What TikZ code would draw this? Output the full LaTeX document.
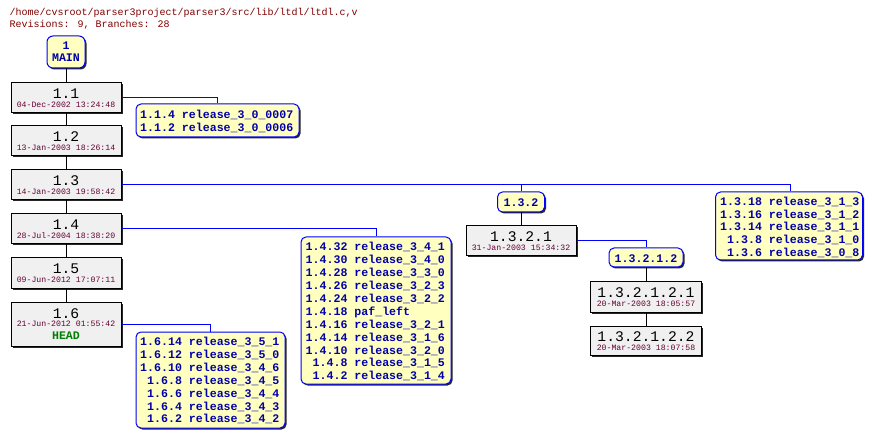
\documentclass[tikz,border=0pt]{standalone}
\usepackage{fontspec}
\newfontfamily\cvsmono{Liberation Mono}
\usetikzlibrary{shadows}
\definecolor{hdrred}{RGB}{128,0,0}
\definecolor{datered}{RGB}{102,0,51}
\definecolor{tagblue}{RGB}{0,0,170}
\definecolor{lineblue}{RGB}{0,0,255}
\definecolor{yelfill}{RGB}{255,255,192}
\definecolor{grayfill}{RGB}{240,240,240}
\definecolor{headgreen}{RGB}{0,128,0}
\begin{document}
\begin{tikzpicture}[x=1pt,y=-1pt,
  shad/.style={drop shadow={shadow xshift=1.5pt,shadow yshift=-1.5pt,opacity=1,fill=black!85}},
  revbox/.style={draw=black,line width=1pt,fill=grayfill,inner sep=0pt,minimum width=110pt,minimum height=30pt,shad},
  tagbox/.style={draw=lineblue,line width=1pt,fill=yelfill,rounded corners=5pt,inner sep=0pt,shad},
  hdr/.style={anchor=base west,inner sep=0pt,text=hdrred,font=\cvsmono\fontsize{10}{12}\selectfont},
  numtxt/.style={anchor=base,inner sep=0pt,font=\cvsmono\fontsize{14.7}{16}\selectfont},
  datetxt/.style={anchor=base,inner sep=0pt,text=datered,font=\cvsmono\fontsize{8.2}{9}\selectfont},
  tagtxt/.style={anchor=base,inner sep=0pt,text=tagblue,font=\cvsmono\bfseries\fontsize{11.6}{12.9}\selectfont},
  lsttxt/.style={tagtxt,anchor=base west},
  trunk/.style={draw=black,line width=1pt},
  branch/.style={draw=lineblue,line width=1pt},
]
\useasboundingbox[fill=white] (0,0) rectangle (875,438);

% header
\node[hdr] (h1) at (9.5,15.5) {/home/cvsroot/parser3project/parser3/src/lib/ltdl/ltdl.c,v};
\node[hdr] (h2) at (9.5,27.5) {Revisions: 9, Branches: 28};

% MAIN
\node[tagbox,minimum width=38pt,minimum height=32pt,rounded corners=6pt] (main) at (66,52) {};
\node[tagtxt] (mainnum) at (66,49.5) {1};
\node[tagtxt] (mainlbl) at (66,62) {MAIN};

% trunk revisions
\node[revbox] (r11) at (66,98) {};
\node[numtxt] (r11n) at (66,99) {1.1};
\node[datetxt] (r11d) at (66,107.5) {04-Dec-2002 13:24:48};

\node[revbox] (r12) at (66,141) {};
\node[numtxt] (r12n) at (66,142) {1.2};
\node[datetxt] (r12d) at (66,150.5) {13-Jan-2003 18:26:14};

\node[revbox] (r13) at (66,185) {};
\node[numtxt] (r13n) at (66,186) {1.3};
\node[datetxt] (r13d) at (66,194.5) {14-Jan-2003 19:58:42};

\node[revbox] (r14) at (66,229) {};
\node[numtxt] (r14n) at (66,230) {1.4};
\node[datetxt] (r14d) at (66,238.5) {28-Jul-2004 18:38:20};

\node[revbox] (r15) at (66,273) {};
\node[numtxt] (r15n) at (66,274) {1.5};
\node[datetxt] (r15d) at (66,282.5) {09-Jun-2012 17:07:11};

\node[revbox,minimum height=44pt] (r16) at (66,324) {};
\node[numtxt] (r16n) at (66,318) {1.6};
\node[datetxt] (r16d) at (66,326.5) {21-Jun-2012 01:55:42};
\node[tagtxt,text=headgreen] (r16h) at (66,339) {HEAD};

% branch 1.3.2
\node[tagbox,minimum width=47pt,minimum height=20pt] (b132) at (521,202) {};
\node[tagtxt] (b132t) at (521,206.5) {1.3.2};
\node[revbox] (r1321) at (521,241) {};
\node[numtxt] (r1321n) at (521,242) {1.3.2.1};
\node[datetxt] (r1321d) at (521,250.5) {31-Jan-2003 15:34:32};

\node[tagbox,minimum width=74pt,minimum height=19pt] (b13212) at (646,257.5) {};
\node[tagtxt] (b13212t) at (646,262) {1.3.2.1.2};
\node[revbox,minimum width=111pt] (r12121) at (646,297) {};
\node[numtxt] (r12121n) at (646,298) {1.3.2.1.2.1};
\node[datetxt] (r12121d) at (646,306.5) {20-Mar-2003 18:05:57};
\node[revbox,minimum width=111pt,minimum height=29pt] (r12122) at (646,340.5) {};
\node[numtxt] (r12122n) at (646,341.5) {1.3.2.1.2.2};
\node[datetxt] (r12122d) at (646,350) {20-Mar-2003 18:07:58};

% tag lists
\node[tagbox,minimum width=163pt,minimum height=33pt] (l114) at (217.5,120.5) {};
\foreach \t [count=\i from 0] in {{1.1.4 release\_3\_0\_0007},{1.1.2 release\_3\_0\_0006}}
  \node[lsttxt] (l114t\i) at (140,{118.1+13*\i}) {\t};

\node[tagbox,minimum width=147pt,minimum height=68pt] (l1318) at (789,226) {};
\foreach \t [count=\i from 0] in {{1.3.18 release\_3\_1\_3},{1.3.16 release\_3\_1\_2},{1.3.14 release\_3\_1\_1},{\hphantom{0}1.3.8 release\_3\_1\_0},{\hphantom{0}1.3.6 release\_3\_0\_8}}
  \node[lsttxt] (l1318t\i) at (720,{205.5+12.75*\i}) {\t};

\node[tagbox,minimum width=150pt,minimum height=147pt] (l1432) at (376,310.5) {};
\foreach \t [count=\i from 0] in {{1.4.32 release\_3\_4\_1},{1.4.30 release\_3\_4\_0},{1.4.28 release\_3\_3\_0},{1.4.26 release\_3\_2\_3},{1.4.24 release\_3\_2\_2},{1.4.18 paf\_left},{1.4.16 release\_3\_2\_1},{1.4.14 release\_3\_1\_6},{1.4.10 release\_3\_2\_0},{\hphantom{0}1.4.8 release\_3\_1\_5},{\hphantom{0}1.4.2 release\_3\_1\_4}}
  \node[lsttxt] (l1432t\i) at (305.5,{250.8+12.9*\i}) {\t};

\node[tagbox,minimum width=149pt,minimum height=96pt] (l1614) at (210.5,380) {};
\foreach \t [count=\i from 0] in {{1.6.14 release\_3\_5\_1},{1.6.12 release\_3\_5\_0},{1.6.10 release\_3\_4\_6},{\hphantom{0}1.6.8 release\_3\_4\_5},{\hphantom{0}1.6.6 release\_3\_4\_4},{\hphantom{0}1.6.4 release\_3\_4\_3},{\hphantom{0}1.6.2 release\_3\_4\_2}}
  \node[lsttxt] (l1614t\i) at (140,{345.5+12.9*\i}) {\t};

% connectors
\draw[trunk] (main) -- (r11);
\draw[trunk] (r11) -- (r12);
\draw[trunk] (r12) -- (r13);
\draw[trunk] (r13) -- (r14);
\draw[trunk] (r14) -- (r15);
\draw[trunk] (r15) -- (r16);
\draw[branch] (r11.east) -| (l114.north);
\draw[branch] (r13.east) -| ([xshift=1.5pt]l1318.north);
\coordinate (j132) at (b132.north |- r13.east);
\draw[branch] (j132) -- (b132.north);
\draw[trunk] (b132) -- (r1321);
\draw[branch] (r1321.east) -| (b13212.north);
\draw[trunk] (b13212) -- (r12121);
\draw[trunk] (r12121) -- (r12122);
\draw[branch] (r14.east) -| (l1432.north);
\draw[branch] (r16.east) -| (l1614.north);
\end{tikzpicture}
\end{document}
